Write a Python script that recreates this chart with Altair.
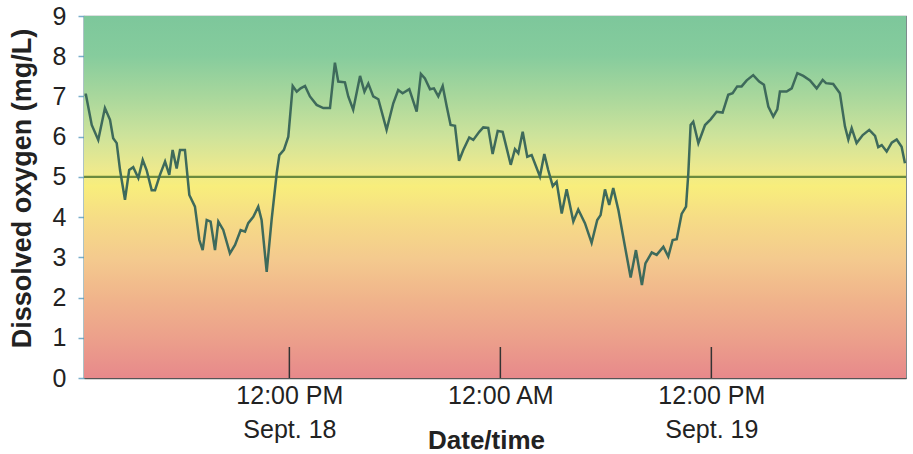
import json

import altair as alt
import pandas as pd

# Dissolved-oxygen record, hours counted from midnight at the start of Sept. 18
hours = [
    0.35, 0.43, 0.76, 1.13, 1.51, 1.80, 1.98, 2.18, 2.37, 2.65, 2.89, 3.12, 3.41, 3.66,
    3.88, 4.17, 4.36, 4.64, 4.93, 5.17, 5.36, 5.59, 5.78, 6.06, 6.31, 6.63, 6.88, 7.07,
    7.30, 7.52, 7.77, 7.96, 8.24, 8.62, 8.91, 9.23, 9.48, 9.66, 9.95, 10.23, 10.42, 10.71,
    10.99, 11.28, 11.43, 11.69, 11.94, 12.19, 12.42, 12.64, 12.89, 13.17, 13.55, 13.93,
    14.31, 14.59, 14.78, 15.16, 15.35, 15.63, 16.02, 16.27, 16.49, 16.77, 17.06, 17.53,
    17.91, 18.19, 18.44, 18.82, 19.24, 19.48, 19.71, 20.00, 20.22, 20.47, 20.72, 20.95,
    21.17, 21.42, 21.65, 21.89, 22.23, 22.46, 22.80, 23.03, 23.31, 23.56, 23.85, 24.13,
    24.59, 24.83, 25.02, 25.27, 25.53, 25.78, 26.25, 26.50, 26.72, 26.98, 27.20, 27.49,
    27.77, 28.15, 28.43, 28.81, 29.19, 29.51, 29.70, 29.95, 30.19, 30.42, 30.71, 31.09,
    31.41, 31.71, 32.05, 32.25, 32.61, 32.89, 33.27, 33.55, 33.80, 34.03, 34.31, 34.56,
    34.69, 34.82, 34.97, 35.26, 35.64, 35.96, 36.30, 36.64, 36.96, 37.21, 37.47, 37.72,
    38.01, 38.38, 38.72, 38.99, 39.24, 39.52, 39.75, 39.90, 40.28, 40.57, 40.89, 41.23,
    41.61, 41.99, 42.33, 42.52, 42.93, 43.31, 43.60, 43.79, 43.98, 44.26, 44.61, 44.98,
    45.31, 45.49, 45.69, 45.97, 46.26, 46.54, 46.82, 47.01,
]
oxygen = [
    7.04, 7.04, 6.29, 5.92, 6.71, 6.42, 5.96, 5.84, 5.17, 4.43, 5.17, 5.24, 4.97, 5.42,
    5.17, 4.67, 4.67, 5.05, 5.38, 5.05, 5.67, 5.21, 5.67, 5.67, 4.55, 4.26, 3.43, 3.18,
    3.93, 3.89, 3.18, 3.89, 3.68, 3.10, 3.31, 3.68, 3.64, 3.85, 4.01, 4.26, 3.93, 2.64,
    3.93, 5.09, 5.54, 5.67, 6.00, 7.26, 7.12, 7.20, 7.26, 7.00, 6.79, 6.71,
    6.71, 7.84, 7.37, 7.35, 7.00, 6.67, 7.51, 7.12, 7.32, 7.00, 6.93, 6.17,
    6.83, 7.16, 7.08, 7.18, 6.62, 7.56, 7.45, 7.18, 7.20, 7.00, 7.26, 6.75,
    6.29, 6.27, 5.40, 5.67, 5.98, 5.92, 6.12, 6.23, 6.22, 5.57, 6.14, 6.12,
    5.30, 5.69, 5.59, 6.12, 5.50, 5.54, 5.01, 5.57, 5.17, 4.77, 4.88, 4.09,
    4.69, 3.89, 4.19, 3.85, 3.36, 3.93, 4.05, 4.69, 4.30, 4.72, 4.18, 3.26,
    2.50, 3.18, 2.31, 2.85, 3.12, 3.06, 3.26, 3.02, 3.43, 3.45, 4.08, 4.26,
    5.09, 6.29, 6.37, 5.84, 6.29, 6.43, 6.62, 6.60, 7.04, 7.08, 7.25, 7.25,
    7.40, 7.53, 7.37, 7.29, 6.75, 6.50, 6.68, 7.12, 7.12, 7.20, 7.58, 7.51,
    7.40, 7.20, 7.41, 7.33, 7.31, 7.08, 6.25, 5.93, 6.21, 5.84, 6.04, 6.17,
    6.02, 5.74, 5.79, 5.63, 5.85, 5.93, 5.75, 5.34,
]

# Time axis labels
tick_hours = [12, 24, 36]
tick_labels = [["12:00 PM", "Sept. 18"], ["12:00 AM"], ["12:00 PM", "Sept. 19"]]
time_range = [0.32, 47.07]

# Oxygen scale and the 5 mg/L reference level
y_range = [0, 9]
y_ticks = list(range(0, 10))
threshold = [5.0]

# Background colour bands, top (9 mg/L) to bottom (0 mg/L)
band_offsets = [0.0, 0.11, 0.22, 0.33, 0.42, 0.47, 0.56, 0.67, 0.78, 0.89, 1.0]
band_colors = [
    "#7dc79b", "#86cc9d", "#a8d79c", "#cde39b", "#ece98e", "#f8ee7c",
    "#f6dc86", "#f4ca8e", "#f0b48b", "#eca08b", "#e7898b",
]

FONT = "Liberation Sans"
W, H = 822, 362

series = pd.DataFrame({"hour": hours, "oxygen": oxygen})
ticks = pd.DataFrame({"hour": tick_hours})
level = pd.DataFrame({"oxygen": threshold})
band = pd.DataFrame({"top": [y_range[1]], "bottom": [y_range[0]]})

label_expr = " : ".join(
    f"datum.value == {h} ? {json.dumps(lbl)}" for h, lbl in zip(tick_hours[:-1], tick_labels[:-1])
) + f" : {json.dumps(tick_labels[-1])}"

x_scale = alt.Scale(domain=time_range, nice=False, zero=False)
y_scale = alt.Scale(domain=y_range, nice=False, zero=True)

y_axis = alt.Axis(
    values=y_ticks,
    grid=False,
    tickSize=6,
    tickColor="#7aaecb",
    tickWidth=1.5,
    domainColor="#3d8494",
    domainWidth=1.5,
    labelFont=FONT,
    labelFontSize=25,
    labelColor="#222222",
    labelPadding=12,
    title="Dissolved oxygen (mg/L)",
    titleFont=FONT,
    titleFontSize=27,
    titleFontWeight="bold",
    titleColor="#222222",
    titlePadding=16,
    titleY=172,
)

x_axis = alt.Axis(
    values=tick_hours,
    labelExpr=label_expr,
    ticks=False,
    tickSize=0,
    grid=False,
    domainColor="#555555",
    domainWidth=1.5,
    labelFont=FONT,
    labelFontSize=25,
    labelColor="#222222",
    labelLineHeight=34,
    labelPadding=5,
    labelFlush=False,
    title="Date/time",
    titleFont=FONT,
    titleFontSize=26,
    titleFontWeight="bold",
    titleColor="#222222",
    titleX=402,
    titleY=49,
    titleBaseline="top",
)

background = alt.Chart(band).mark_rect(
    fill=alt.Gradient(
        gradient="linear",
        x1=0, x2=0, y1=0, y2=1,
        stops=[alt.GradientStop(offset=o, color=c) for o, c in zip(band_offsets, band_colors)],
    )
).encode(
    x=alt.value(0),
    x2=alt.value("width"),
    y=alt.Y("top:Q", scale=y_scale, axis=y_axis),
    y2="bottom:Q",
)

reference = alt.Chart(level).mark_rule(color="#6b8a3e", strokeWidth=2.4).encode(
    y=alt.Y("oxygen:Q", scale=y_scale, axis=y_axis)
)

trace = alt.Chart(series).mark_line(color="#3e6a5b", strokeWidth=2.5).encode(
    x=alt.X("hour:Q", scale=x_scale, axis=x_axis),
    y=alt.Y("oxygen:Q", scale=y_scale, axis=y_axis),
)

time_marks = alt.Chart(ticks).mark_rule(color="#333333", strokeWidth=1.5).encode(
    x=alt.X("hour:Q", scale=x_scale, axis=x_axis),
    y=alt.value(H),
    y2=alt.value(H - 31),
)

chart = (
    alt.layer(background, reference, time_marks, trace)
    .properties(
        width=W,
        height=H,
        padding={"left": 84, "top": 16, "right": 7, "bottom": 76},
        autosize=alt.AutoSizeParams(type="none"),
        background="white",
    )
    .configure_view(stroke="#6f7f80", strokeWidth=1.2)
)

chart.save("out.html", embed_options={"renderer": "svg", "actions": False})
